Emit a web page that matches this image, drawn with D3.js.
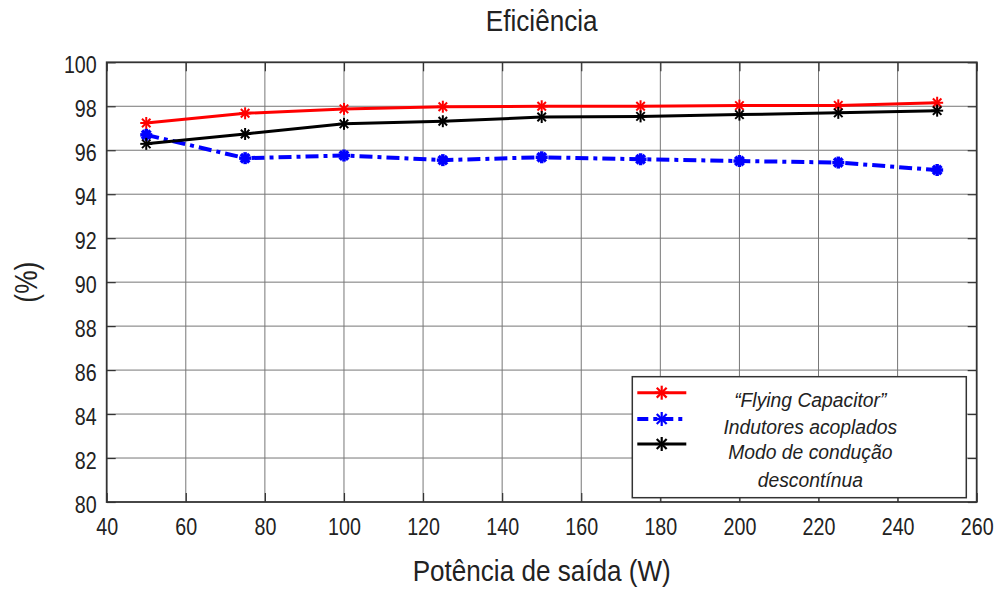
<!DOCTYPE html>
<html>
<head>
<meta charset="utf-8">
<script src="https://cdn.jsdelivr.net/npm/d3@7"></script>
<style>
  body { margin: 0; background: #fff; }
  svg text { font-family: "Liberation Sans", Arial, sans-serif; fill: #222; }
</style>
</head>
<body>
<div id="chart"></div>
<script>
// dados
var potencia = [50, 75, 100, 125, 150, 175, 200, 225, 250];
var flyingCap = [97.24, 97.68, 97.88, 97.98, 98.0, 98.0, 98.03, 98.04, 98.16];
var indutores = [96.7, 95.64, 95.76, 95.55, 95.68, 95.59, 95.51, 95.44, 95.1];
var modoDesc = [96.29, 96.74, 97.2, 97.32, 97.51, 97.54, 97.62, 97.7, 97.8];
var xTicks = [40, 60, 80, 100, 120, 140, 160, 180, 200, 220, 240, 260];
var yTicks = [80, 82, 84, 86, 88, 90, 92, 94, 96, 98, 100];
var legendas = ["\u201cFlying Capacitor\u201d", "Indutores acoplados", "Modo de condu\u00e7\u00e3o", "descont\u00ednua"];

var W = 1000, H = 589;
var margin = {top: 62.3, right: 23.3, bottom: 87, left: 106.7};
var width = W - margin.left - margin.right;
var height = H - margin.top - margin.bottom;

// fonte estreita simulada com escala horizontal
var sxTick = 0.82;

var x = d3.scaleLinear().domain([40, 260]).range([0, width]);
var y = d3.scaleLinear().domain([80, 100]).range([height, 0]);

var svg = d3.select("#chart").append("svg")
    .attr("width", W)
    .attr("height", H);

var g = svg.append("g")
    .attr("transform", "translate(" + [margin.left, margin.top] + ")");

// grade
g.append("g").selectAll("line").data(xTicks.slice(1, -1)).enter()
  .append("line")
    .attr("x1", function(d) { return x(d); }).attr("x2", function(d) { return x(d); })
    .attr("y1", 0).attr("y2", height)
    .attr("stroke", "#777").attr("stroke-width", 1);
g.append("g").selectAll("line").data(yTicks.slice(1, -1)).enter()
  .append("line")
    .attr("y1", function(d) { return y(d); }).attr("y2", function(d) { return y(d); })
    .attr("x1", 0).attr("x2", width)
    .attr("stroke", "#777").attr("stroke-width", 1);

// eixos com ticks para dentro
function estiloEixo(sel) {
  sel.select(".domain").remove();
  sel.selectAll(".tick line").attr("stroke", "#333").attr("stroke-width", 1.2);
  sel.selectAll("text").attr("font-size", 24).attr("fill", "#222");
}
g.append("g")
    .attr("transform", "translate(0," + height + ")")
    .call(d3.axisBottom(x).tickValues(xTicks).tickSizeInner(-9).tickSizeOuter(0).tickPadding(16))
    .call(estiloEixo)
    .selectAll("text").attr("transform", "scale(" + sxTick + ",1)");
g.append("g")
    .call(d3.axisLeft(y).tickValues(yTicks).tickSizeInner(-9).tickSizeOuter(0))
    .call(estiloEixo)
    .selectAll("text")
      .attr("x", -10 / sxTick)
      .attr("y", 3)
      .attr("transform", "scale(" + sxTick + ",1)");
g.append("g")
    .call(d3.axisTop(x).tickValues(xTicks).tickSizeInner(-9).tickSizeOuter(0).tickFormat(""))
    .call(estiloEixo);
g.append("g")
    .attr("transform", "translate(" + width + ",0)")
    .call(d3.axisRight(y).tickValues(yTicks).tickSizeInner(-9).tickSizeOuter(0).tickFormat(""))
    .call(estiloEixo);

g.append("rect")
    .attr("width", width).attr("height", height)
    .attr("fill", "none").attr("stroke", "#333").attr("stroke-width", 1.8);

// séries
var series = [
  {valores: flyingCap, cor: "#ff0000", dash: null, largura: 3, marca: 2},
  {valores: indutores, cor: "#0000ff", dash: "13,5,4,5", largura: 4, marca: 3.5},
  {valores: modoDesc, cor: "#000000", dash: null, largura: 3, marca: 2}
];

var linha = d3.line()
    .x(function(d) { return x(d[0]); })
    .y(function(d) { return y(d[1]); });

function asterisco(sel, cor, r, larg) {
  [0, 45, 90, 135].forEach(function(a) {
    var rad = a * Math.PI / 180;
    sel.append("line")
      .attr("x1", -r * Math.cos(rad)).attr("y1", -r * Math.sin(rad))
      .attr("x2", r * Math.cos(rad)).attr("y2", r * Math.sin(rad))
      .attr("stroke", cor).attr("stroke-width", larg);
  });
}

series.forEach(function(s) {
  var pts = potencia.map(function(p, i) { return [p, s.valores[i]]; });
  g.append("path")
      .datum(pts)
      .attr("d", linha)
      .attr("fill", "none")
      .attr("stroke", s.cor)
      .attr("stroke-width", s.largura)
      .attr("stroke-dasharray", s.dash);
  g.append("g").selectAll("g").data(pts).enter()
    .append("g")
      .attr("transform", function(d) { return "translate(" + [x(d[0]), y(d[1])] + ")"; })
      .each(function() { asterisco(d3.select(this), s.cor, 6, s.marca); });
});

// legenda
var leg = svg.append("g").attr("transform", "translate(632.3,376.7)");
leg.append("rect")
    .attr("width", 334).attr("height", 121)
    .attr("fill", "#fff").attr("stroke", "#333").attr("stroke-width", 1.5);
var legY = [16, 42.3, 67.3];
series.forEach(function(s, i) {
  leg.append("line")
      .attr("x1", 5).attr("x2", 54)
      .attr("y1", legY[i]).attr("y2", legY[i])
      .attr("stroke", s.cor).attr("stroke-width", s.largura)
      .attr("stroke-dasharray", s.dash ? "11,5,4,5" : null);
  asterisco(leg.append("g").attr("transform", "translate(" + [29.4, legY[i]] + ")"), s.cor, 7, 2.2);
});
var legTxtY = [30, 57.3, 82.6, 110.6];
leg.selectAll("text.leg").data(legendas).enter()
  .append("text")
    .attr("class", "leg")
    .attr("transform", function(d, i) { return "translate(" + [178, legTxtY[i]] + ") scale(0.92,1)"; })
    .attr("text-anchor", "middle")
    .attr("font-size", 21)
    .attr("font-style", "italic")
    .attr("fill", "#111")
    .text(function(d) { return d; });

// títulos
svg.append("text")
    .attr("transform", "translate(" + [margin.left + width / 2, 31] + ") scale(0.87,1)")
    .attr("text-anchor", "middle")
    .attr("font-size", 30)
    .text("Efici\u00eancia");

svg.append("text")
    .attr("transform", "translate(" + [margin.left + width / 2, 581] + ") scale(0.9,1)")
    .attr("text-anchor", "middle")
    .attr("font-size", 29)
    .text("Pot\u00eancia de sa\u00edda (W)");

svg.append("text")
    .attr("transform", "translate(37," + (margin.top + height / 2) + ") rotate(-90) scale(0.85,1)")
    .attr("text-anchor", "middle")
    .attr("font-size", 31)
    .text("(%)");
</script>
</body>
</html>
